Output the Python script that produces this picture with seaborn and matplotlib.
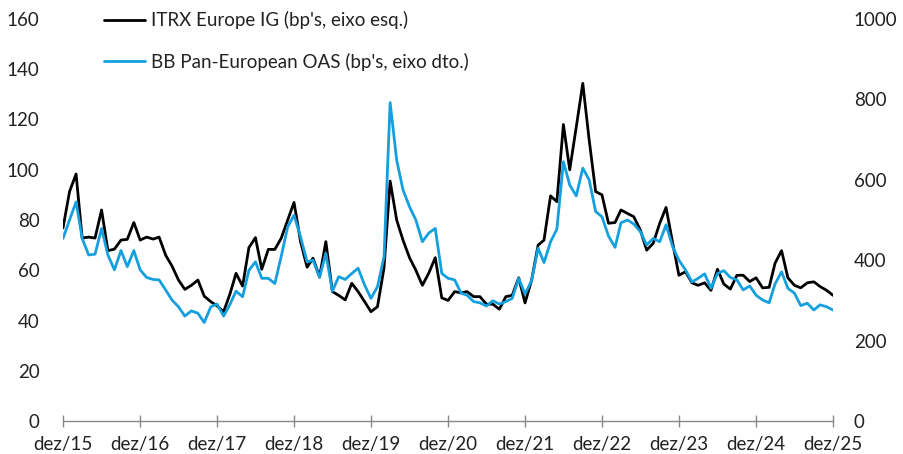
import numpy as np
import pandas as pd
import matplotlib
matplotlib.use("Agg")
import matplotlib.pyplot as plt
import matplotlib.dates as mdates
import seaborn as sns

# ---- data (monthly, Dec 2015 - Dec 2025) ----
itrx = [76.8, 91.3, 98.3, 72.8, 73.2, 72.8, 84, 67.8, 68.4, 72, 72.3, 79,
        72, 73.2, 72.4, 73.2, 66, 61.7, 56.1, 52.4, 54, 56.1, 49.7, 47.5,
        45.8, 43.5, 50.8, 58.8, 53.7, 69, 73, 60.4, 68.3, 68.3, 72.7, 80,
        87, 71.4, 61.2, 64.8, 57.4, 71.4, 51.5, 50, 48.2, 54.8, 51.5, 47.5,
        43.5, 45.5, 61, 95.5, 80, 72, 65, 60, 54, 59, 65, 49,
        48, 51.5, 51, 51.5, 49.5, 49.5, 46.5, 46.5, 44.5, 49.5, 50, 57,
        47, 56, 70, 72, 89.6, 87.3, 118, 100, 117, 134.4, 112, 91.3,
        90, 78.7, 79, 84, 82.6, 81.3, 76, 68, 70.7, 78.7, 85, 71,
        58, 59.4, 55, 54, 55, 52, 60.4, 54.5, 52.5, 58, 58, 55.5,
        57, 53, 53.2, 62.8, 67.8, 57, 54, 53, 55, 55.4, 53.5, 52, 50]
bb_oas = [454, 500, 545, 454, 413, 415, 479, 413, 376, 424, 384, 424,
          376, 357, 352, 351, 326, 301, 284, 261, 274, 268, 245, 284,
          291, 261, 291, 323, 309, 375, 396, 355, 355, 342, 409, 483,
          512, 458, 396, 400, 357, 417, 323, 359, 352, 367, 380, 338,
          305, 334, 409, 792, 649, 575, 533, 500, 446, 468, 479, 367,
          355, 351, 318, 313, 297, 294, 286, 299, 291, 297, 305, 355,
          316, 349, 430, 394, 446, 477, 645, 587, 560, 629, 600, 521,
          508, 460, 432, 493, 500, 490, 471, 438, 454, 446, 488, 434,
          400, 376, 346, 355, 366, 330, 367, 374, 357, 351, 326, 336,
          313, 301, 294, 341, 371, 330, 318, 287, 293, 276, 289, 284, 276]
dates = pd.date_range("2015-12-01", periods=len(itrx), freq="MS")
tick_labels = ["dez/15", "dez/16", "dez/17", "dez/18", "dez/19", "dez/20",
               "dez/21", "dez/22", "dez/23", "dez/24", "dez/25"]
left_ticks = [0, 20, 40, 60, 80, 100, 120, 140, 160]
right_ticks = [0, 200, 400, 600, 800, 1000]
label_itrx = "ITRX Europe IG (bp's, eixo esq.)"
label_bb = "BB Pan-European OAS (bp's, eixo dto.)"

df = pd.DataFrame({"date": dates, "itrx": itrx, "bb": bb_oas})

sns.set_theme(style="white")
plt.rcParams["font.family"] = ["Lato", "DejaVu Sans"]

fig = plt.figure(figsize=(9.04, 4.54), dpi=100)
ax = fig.add_axes([63 / 904, 33 / 454, 770 / 904, 402 / 454])
ax2 = ax.twinx()

sns.lineplot(data=df, x="date", y="itrx", ax=ax, color="black", linewidth=2.0,
             label=label_itrx, legend=False)
sns.lineplot(data=df, x="date", y="bb", ax=ax2, color="#14A0DF", linewidth=2.0,
             label=label_bb, legend=False)

ax.set_ylim(0, 160)
ax2.set_ylim(0, 1000)
ax.set_yticks(left_ticks)
ax2.set_yticks(right_ticks)
ax.set_xlim(dates[0], dates[-1])
tick_dates = [pd.Timestamp(f"{2015 + i}-12-01") for i in range(len(tick_labels))]
ax.set_xticks(tick_dates)
ax.set_xticklabels(tick_labels)
ax.set_xlabel("")
ax.set_ylabel("")
ax2.set_ylabel("")

for a in (ax, ax2):
    for s in a.spines.values():
        s.set_visible(False)
    a.grid(False)
ax.spines["bottom"].set_visible(True)
ax.spines["bottom"].set_color("#888888")
ax.spines["bottom"].set_linewidth(1.0)

fs = 13.5
ax.tick_params(axis="x", which="major", direction="inout", length=8, width=1,
               color="#888888", pad=7, labelsize=fs, labelcolor="#222222", bottom=True)
ax.tick_params(axis="y", length=0, pad=17, labelsize=fs, labelcolor="#222222")
ax2.tick_params(axis="y", length=0, pad=15, labelsize=fs, labelcolor="#222222")

h1, l1 = ax.get_legend_handles_labels()
h2, l2 = ax2.get_legend_handles_labels()
leg = ax2.legend(h1 + h2, l1 + l2, loc="upper left",
                 bbox_to_anchor=(104 / 904, 1 - 11 / 454),
                 bbox_transform=fig.transFigure, frameon=False,
                 fontsize=fs, handlelength=2.2, handletextpad=0.3,
                 labelspacing=1.25, borderpad=0, borderaxespad=0)
for t in leg.get_texts():
    t.set_color("#222222")

fig.savefig("out.png", dpi=100)
